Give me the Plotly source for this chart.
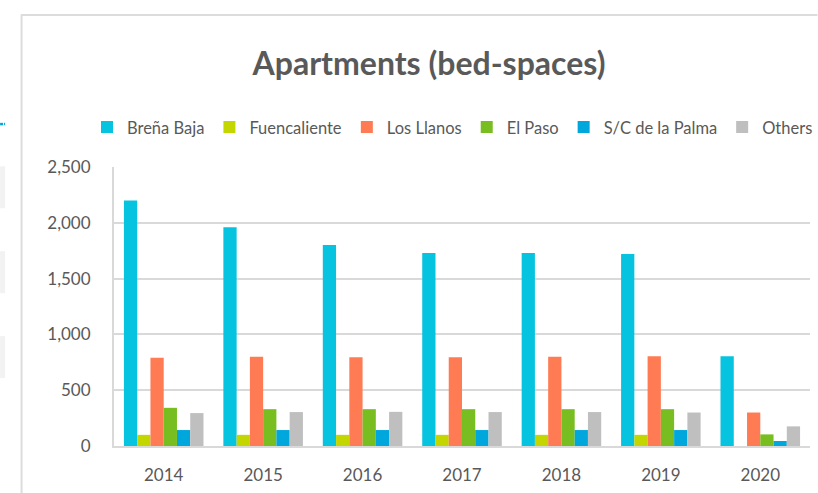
import plotly.graph_objects as go

years = ["2014", "2015", "2016", "2017", "2018", "2019", "2020"]
brena_baja = [2200, 1960, 1800, 1730, 1730, 1720, 805]
fuencaliente = [100, 100, 100, 100, 100, 100, 0]
los_llanos = [790, 800, 795, 795, 800, 805, 300]
el_paso = [342, 330, 330, 330, 330, 330, 104]
sc_palma = [143, 143, 143, 143, 143, 143, 45]
others = [295, 304, 306, 304, 304, 300, 176]

series = [
    ("Breña Baja", brena_baja, "#06C3DF"),
    ("Fuencaliente", fuencaliente, "#C3D600"),
    ("Los Llanos", los_llanos, "#FF7B53"),
    ("El Paso", el_paso, "#78BE21"),
    ("S/C de la Palma", sc_palma, "#00A7DD"),
    ("Others", others, "#BFBFBF"),
]

W, H = 818, 493
L, R, T, B = 114, 810.5, 166.7, 446

fig = go.Figure()
for name, vals, col in series:
    fig.add_trace(go.Bar(name=name, x=years, y=vals, marker_color=col,
                         marker_line_width=0))

def px_x(px):
    return (px - L) / (R - L)

def px_y(py):
    return (B - py) / (B - T)

shapes = []
frame = "#DCDCDC"
# outer chart frame
shapes.append(dict(type="line", xref="paper", yref="paper",
                   x0=px_x(21.5), x1=px_x(21.5), y0=px_y(14), y1=px_y(493),
                   line=dict(color=frame, width=2)))
shapes.append(dict(type="line", xref="paper", yref="paper",
                   x0=px_x(21), x1=px_x(818), y0=px_y(14.5), y1=px_y(14.5),
                   line=dict(color=frame, width=2)))
# fragments of a neighbouring chart at the left edge
for y0, y1 in [(166, 208), (251, 293), (336, 378)]:
    shapes.append(dict(type="rect", xref="paper", yref="paper",
                       x0=px_x(0), x1=px_x(5), y0=px_y(y1), y1=px_y(y0),
                       fillcolor="#F2F2F2", line=dict(width=0)))
for x0, x1 in [(0, 3), (4, 5)]:
    shapes.append(dict(type="rect", xref="paper", yref="paper",
                       x0=px_x(x0), x1=px_x(x1), y0=px_y(125), y1=px_y(122.5),
                       fillcolor="#00A7DD", line=dict(width=0)))

txt = "#595959"
fig.update_layout(
    width=W, height=H, autosize=False,
    margin=dict(l=L, r=W - R, t=T, b=H - B, pad=0),
    paper_bgcolor="white", plot_bgcolor="white",
    font=dict(family="Lato", color=txt),
    title=dict(text="<b>Apartments (bed-spaces)</b>", x=429 / W, xanchor="center",
               y=1 - 64 / H, yanchor="middle", xref="container", yref="container",
               font=dict(size=32, color=txt, family="Lato")),
    barmode="group", bargap=0.2, bargroupgap=0,
    showlegend=True,
    legend=dict(orientation="h", x=px_x(100), xanchor="left",
                y=px_y(127), yanchor="middle", font=dict(size=16.5, color=txt),
                itemwidth=30, traceorder="normal", bgcolor="rgba(0,0,0,0)"),
    shapes=shapes,
)
fig.update_xaxes(type="category", showgrid=False, showline=True, linecolor="#D9D9D9",
                 linewidth=2, ticks="outside", ticklen=13, tickcolor="rgba(0,0,0,0)",
                 tickfont=dict(size=17, color=txt), zeroline=False)
fig.update_yaxes(range=[0, 2500], tickvals=[0, 500, 1000, 1500, 2000, 2500],
                 tickformat=",", showgrid=True, gridcolor="#D9D9D9", gridwidth=2,
                 showline=True, linecolor="#D9D9D9", linewidth=2, zeroline=False,
                 ticks="outside", ticklen=18, tickcolor="rgba(0,0,0,0)",
                 tickfont=dict(size=17, color=txt))

fig.write_html("out.html")
